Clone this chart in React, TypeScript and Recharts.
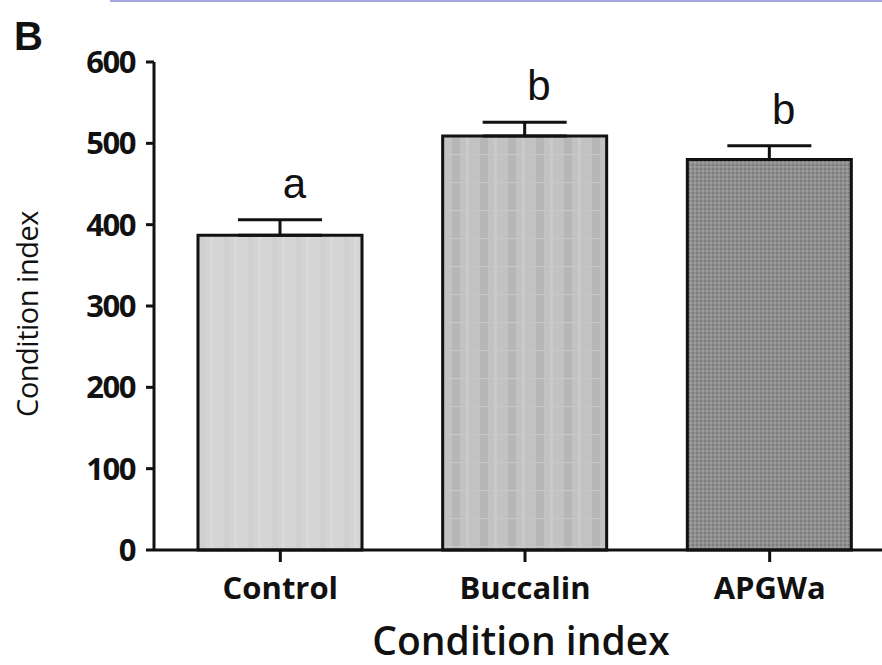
import React from "react";
import {
  ComposedChart,
  Bar,
  Line,
  Cell,
  XAxis,
  YAxis,
  ErrorBar,
  LabelList,
} from "recharts";

const groups = ["Control", "Buccalin", "APGWa"];
const means = [387, 509, 480];
const sems = [19, 17, 17];
const letters = ["a", "b", "b"];
const yTicks = [0, 100, 200, 300, 400, 500, 600];

const data = groups.map((g, i) => ({
  name: g,
  mean: means[i],
  err: [0, sems[i]],
  top: means[i] + sems[i],
  letter: letters[i],
}));

const fills = ["url(#pCtrl)", "url(#pBucc)", "url(#pApgw)"];

const LetterLabel = (props: any) => {
  const { x, y, value } = props;
  return (
    <text
      x={x + 14}
      y={y - 22}
      textAnchor="middle"
      fontFamily="'Liberation Sans', Arial, sans-serif"
      fontSize={42}
      fill="#111"
    >
      {value}
    </text>
  );
};

const YTitle = () => (
  <text
    x={26}
    y={314}
    transform="rotate(-90 26 314)"
    textAnchor="middle"
    dominantBaseline="central"
    fontFamily="'Open Sans', sans-serif"
    fontSize={29}
    letterSpacing={-0.5}
    fill="#111"
  >
    Condition index
  </text>
);

// x-axis title drawn as baseline text so its box stays inside the picture
const XTitle = (props: any) => {
  const { viewBox } = props;
  const cx = viewBox.x + viewBox.width / 2 - 2;
  return (
    <text
      x={cx}
      y={655}
      textAnchor="middle"
      fontFamily="'Open Sans', sans-serif"
      fontSize={39}
      fontWeight={600}
      fill="#111"
    >
      Condition index
    </text>
  );
};

export default function App() {
  return (
    <div
      style={{
        position: "absolute",
        left: 0,
        top: 0,
        width: 882,
        height: 665,
        overflow: "hidden",
        background: "#fff",
      }}
    >
      <svg width={0} height={0} style={{ position: "absolute" }}>
        <defs>
          <pattern id="pCtrl" width="24" height="24" patternUnits="userSpaceOnUse">
            <rect width="24" height="24" fill="#d5d5d5" />
            <rect x="8" width="6" height="24" fill="#d0d0d0" />
            <rect x="18" width="3" height="24" fill="#dadada" />
          </pattern>
          <pattern id="pBucc" width="28" height="28" patternUnits="userSpaceOnUse">
            <rect width="28" height="28" fill="#c2c2c2" />
            <rect x="4" width="8" height="28" fill="#b6b6b6" />
            <rect x="18" width="3" height="28" fill="#cacaca" />
            <rect y="14" width="28" height="1" fill="#c8c8c8" />
          </pattern>
          <pattern id="pApgw" width="4" height="4" patternUnits="userSpaceOnUse">
            <rect width="4" height="4" fill="#8f8f8f" />
            <rect width="2" height="2" fill="#7d7d7d" />
            <rect x="2" y="2" width="2" height="2" fill="#9c9c9c" />
          </pattern>
        </defs>
      </svg>
      <div
        style={{
          position: "absolute",
          left: 110,
          top: 0,
          width: 772,
          height: 2,
          background: "#a8a8e0",
        }}
      />
      <div
        style={{
          position: "absolute",
          left: 14,
          top: 14,
          fontFamily: "'Liberation Sans', Arial, sans-serif",
          fontWeight: "bold",
          fontSize: 40,
          color: "#111",
          lineHeight: "44px",
        }}
      >
        B
      </div>
      <ComposedChart
        width={900}
        height={665}
        data={data}
        margin={{ top: 62, right: 8, left: 0, bottom: 0 }}
        style={{ position: "absolute", left: 0, top: 0 }}
      >
        <XAxis
          dataKey="name"
          height={115}
          padding={{ left: 4, right: 0 }}
          axisLine={{ stroke: "#111", strokeWidth: 3 }}
          tickLine={{ stroke: "#111", strokeWidth: 3 }}
          tickSize={12}
          tickMargin={15}
          tick={{
            fill: "#111",
            fontSize: 31,
            fontWeight: 700,
            fontFamily: "'Open Sans', sans-serif",
          }}
          label={<XTitle />}
        />
        <YAxis
          width={154}
          domain={[0, 600]}
          ticks={yTicks}
          interval={0}
          axisLine={{ stroke: "#111", strokeWidth: 3 }}
          tickLine={{ stroke: "#111", strokeWidth: 3 }}
          tickSize={8}
          tickMargin={11}
          tick={{
            fill: "#111",
            fontSize: 31,
            fontWeight: 700,
            letterSpacing: -1.5,
            fontFamily: "'Open Sans', sans-serif",
          }}
          label={<YTitle />}
        />
        <Bar
          dataKey="mean"
          barSize={164}
          stroke="#111"
          strokeWidth={3}
          isAnimationActive={false}
        >
          {data.map((d, i) => (
            <Cell key={d.name} fill={fills[i]} />
          ))}
          <ErrorBar dataKey="err" width={42} stroke="#111" strokeWidth={3} />
        </Bar>
        <Line
          dataKey="top"
          stroke="none"
          dot={false}
          activeDot={false}
          isAnimationActive={false}
        >
          <LabelList dataKey="letter" content={<LetterLabel />} />
        </Line>
      </ComposedChart>
    </div>
  );
}
